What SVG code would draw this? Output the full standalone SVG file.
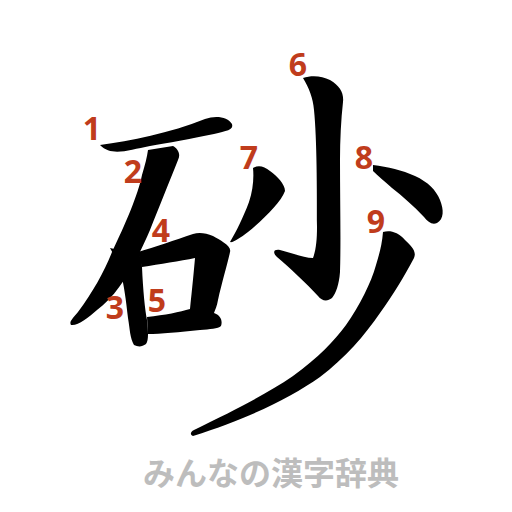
<svg xmlns="http://www.w3.org/2000/svg" width="512" height="512" viewBox="0 0 512 512">
<style>
.s{fill:#000}
.n{fill:#c03c1c;font-family:"Noto Sans","DejaVu Sans",sans-serif;font-weight:bold;font-size:32px;text-anchor:middle}
.t{fill:#bdbdbd;font-family:"Noto Sans CJK JP",sans-serif;font-weight:bold;font-size:32px;text-anchor:middle}
</style>
<rect width="512" height="512" fill="#fff"/>
<g id="strokes">
<path id="s1" class="s" d="M100,145 C130,141 170,133 205,119 C216,115 228,117 232,124 C234,130 226,131 214,134 C190,139 168,143 150,146 C128,150 112,157 100,145 Z"/>
<path id="s2" class="s" d="M148,150 L173,146 C178,149 181,154 178,160 C168,185 160,205 150,230 C135,265 118,295 97,310 C88,318 78,326 71,325 C69,322 72,319 78,312 C93,292 105,270 112,252 C125,225 138,195 142,175 C145,165 147,157 148,150 Z"/>
<path id="s3" class="s" d="M110,248 C118,250 130,250 138,252 C141,258 142,262 142,267 C143,290 145,310 147,320 C148,330 149,340 146,344 C142,347 138,347 134,345 C130,338 130,330 128,318 C126,300 124,285 121,274 C118,262 114,255 110,248 Z"/>
<path id="s45" class="s" d="M138,252 C155,247 175,240 193,234 C199,232 206,233 213,236 C220,240 232,246 230,252 C228,262 222,282 218,300 C217,306 215,310 214,313 C220,315 223,320 221,326 C218,329 210,329 200,330 C180,332 160,334 148,334 L147,317 C165,315 180,312 190,309 C192,290 194,270 195,258 C180,261 160,264 142,267 Z"/>
<path id="s6" class="s" d="M303,78 C312,75 322,76 330,80 C340,86 344,93 343,102 C341,120 340,140 340,160 C340,200 341,240 340,272 C339,285 336,293 332,298 C327,302 322,301 318,296 C305,282 290,268 277,257 C272,252 274,249 280,250 C292,253 304,258 313,258 C316,250 317,240 317,227 C317,190 317,140 314,110 C313,98 309,88 303,78 Z"/>
<path id="s7" class="s" d="M253,168 C258,165 264,166 270,171 C277,176 285,184 285,191 C281,202 265,218 248,232 C240,238 233,243 230,242 C236,232 243,218 249,202 C253,190 254,178 253,168 Z"/>
<path id="s8" class="s" d="M373,165 C388,167 402,170 415,176 C428,182 436,190 440,200 C444,210 444,219 437,223 C432,225 428,222 424,217 C414,206 402,196 392,188 C384,181 378,176 373,171 Z"/>
<path id="s9" class="s" d="M383,232 C390,230 398,232 405,240 C411,246 417,251 414,258 C405,275 393,295 380,313 C365,335 345,358 320,377 C290,398 250,418 193,436 C190,435 190,432 194,430 C235,410 265,395 293,376 C318,358 335,340 346,325 C360,305 371,283 376,265 C379,255 382,245 383,232 Z"/>
</g>
<g id="numbers">
<text class="n" x="92" y="140">1</text>
<text class="n" x="133" y="183">2</text>
<text class="n" x="115" y="319">3</text>
<text class="n" x="161" y="242">4</text>
<text class="n" x="157" y="312">5</text>
<text class="n" x="298" y="76">6</text>
<text class="n" x="249" y="169">7</text>
<text class="n" x="364" y="169">8</text>
<text class="n" x="376" y="233">9</text>
</g>
<text class="t" x="271" y="485">みんなの漢字辞典</text>
</svg>
